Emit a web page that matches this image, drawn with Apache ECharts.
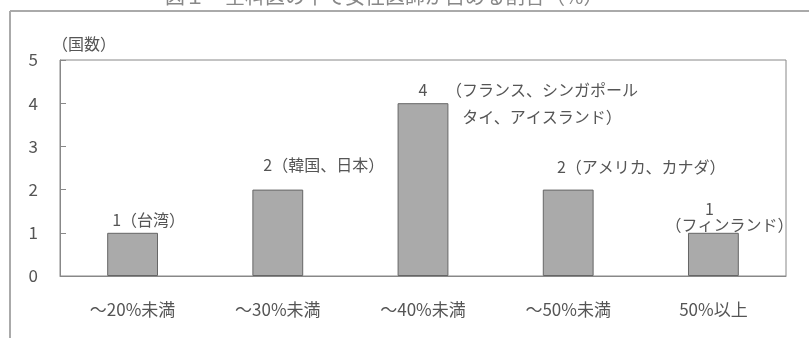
<!DOCTYPE html>
<html>
<head>
<meta charset="utf-8">
<script src="https://cdn.jsdelivr.net/npm/echarts@6/dist/echarts.min.js"></script>
<style>
  html, body { margin: 0; padding: 0; background: #fff; }
  #chart { width: 809px; height: 338px; }
</style>
</head>
<body>
<div id="chart"></div>
<script>
// data
const categories = ['～20%未満', '～30%未満', '～40%未満', '～50%未満', '50%以上']
const counts = [1, 2, 4, 2, 1]
const countries = ['台湾', '韓国、日本', 'フランス、シンガポール\nタイ、アイスランド', 'アメリカ、カナダ', 'フィンランド']
const yTicks = [0, 1, 2, 3, 4, 5]

const FONT = '"Noto Sans CJK JP", "Noto Sans", sans-serif'
const TEXT = '#555'

// label placement per bar (the 40% bar keeps its note beside it, see markPoint)
const labelOffsets = [[16, 0], [46, -12], [0, 0], [73, -10], [16, 5]]

function barLabel(i) {
  if (i === 2) return String(counts[i])
  if (i === 4) return '{a|' + counts[i] + '}\n{b|（' + countries[i] + '）}'
  return counts[i] + '（' + countries[i] + '）'
}

const barData = counts.map((v, i) => ({
  value: v,
  label: { formatter: barLabel(i), offset: labelOffsets[i] }
}))

const option = {
  animation: false,
  textStyle: { fontFamily: FONT },
  graphic: [
    { type: 'text', left: 165, top: -14, style: { text: '図１　全科医の中で女性医師が占める割合（%）', font: '20px ' + FONT, fill: '#888' } },
    { type: 'line', shape: { x1: 10, y1: 11, x2: 809, y2: 11 }, style: { stroke: '#aaa', lineWidth: 2 } },
    { type: 'line', shape: { x1: 10, y1: 11, x2: 10, y2: 338 }, style: { stroke: '#aaa', lineWidth: 2 } }
  ],
  grid: { left: 60, right: 23, top: 60, bottom: 62, show: true, borderColor: '#888', borderWidth: 1 },
  xAxis: {
    type: 'category',
    data: categories,
    axisLine: { lineStyle: { color: '#888' } },
    axisTick: { inside: true, length: 5, lineStyle: { color: '#888' } },
    axisLabel: { color: TEXT, fontSize: 17, margin: 25, fontFamily: FONT }
  },
  yAxis: {
    type: 'value',
    min: yTicks[0],
    max: yTicks[yTicks.length - 1],
    interval: 1,
    name: '（国数）',
    nameLocation: 'end',
    nameGap: 8,
    nameTextStyle: { color: TEXT, fontSize: 16, align: 'left', padding: [0, 0, 0, -8], fontFamily: FONT },
    axisLine: { show: true, lineStyle: { color: '#888' } },
    axisTick: { show: true, inside: true, length: 6, lineStyle: { color: '#888' } },
    splitLine: { show: false },
    axisLabel: { color: TEXT, fontSize: 17, margin: 22, fontFamily: FONT }
  },
  series: [{
    type: 'bar',
    data: barData,
    barWidth: '35%',
    itemStyle: { color: '#aaaaaa', borderColor: '#666', borderWidth: 1 },
    label: {
      show: true,
      position: 'top',
      distance: 5,
      color: TEXT,
      fontSize: 16,
      fontFamily: FONT,
      rich: {
        a: { fontSize: 16, color: TEXT, padding: [0, 40, 0, 0], fontFamily: FONT },
        b: { fontSize: 16, color: TEXT, fontFamily: FONT }
      }
    },
    markPoint: {
      symbol: 'rect',
      symbolSize: 0,
      data: [{ coord: [2, counts[2]] }],
      label: {
        show: true,
        position: 'inside',
        formatter: '（' + countries[2] + '）',
        offset: [119, 0],
        color: TEXT,
        fontSize: 16,
        lineHeight: 27,
        align: 'center',
        fontFamily: FONT
      }
    }
  }]
}

const myChart = echarts.init(document.getElementById('chart'))
myChart.setOption(option)
</script>
</body>
</html>
